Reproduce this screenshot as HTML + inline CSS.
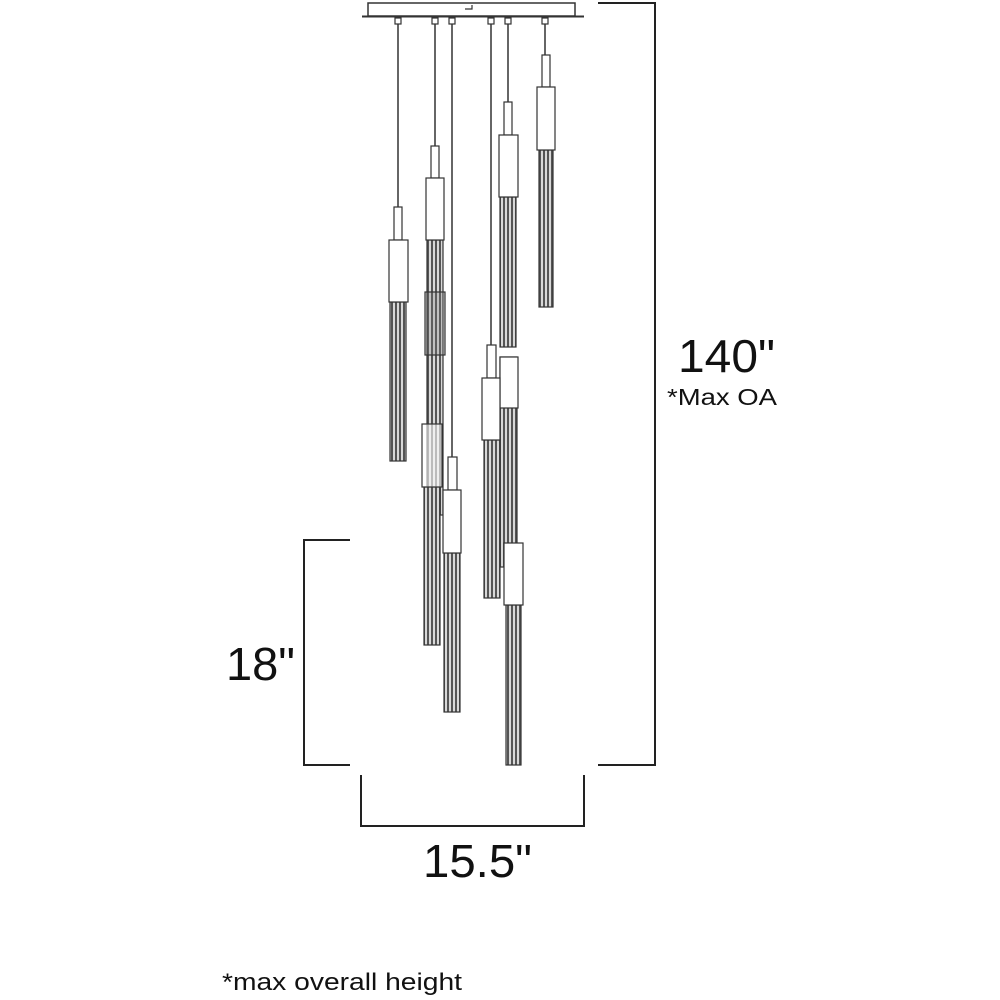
<!DOCTYPE html>
<html><head><meta charset="utf-8"><style>
html,body{margin:0;padding:0;background:#fff;}
svg{display:block;}
text{font-family:"Liberation Sans",sans-serif;fill:#111;}
</style></head><body>
<svg width="1000" height="1000" viewBox="0 0 1000 1000" xmlns="http://www.w3.org/2000/svg">
<defs>
<pattern id="tb" width="4" height="6" patternUnits="userSpaceOnUse">
<rect width="4" height="6" fill="#555"/>
<rect x="1" width="2" height="6" fill="#d8d8d8"/>
</pattern>
</defs>
<rect width="1000" height="1000" fill="#fff"/>
<!-- canopy -->
<rect x="368" y="3" width="207" height="13" fill="#fff" stroke="#333" stroke-width="1.5"/>
<line x1="362" y1="16.5" x2="584" y2="16.5" stroke="#333" stroke-width="2"/>
<path d="M472 5 v4 h-7" fill="none" stroke="#333" stroke-width="1.2"/>
<g fill="#fff" stroke="#333" stroke-width="1.2">
<rect x="395" y="18" width="6" height="6"/><rect x="432" y="18" width="6" height="6"/><rect x="449" y="18" width="6" height="6"/>
<rect x="488" y="18" width="6" height="6"/><rect x="505" y="18" width="6" height="6"/><rect x="542" y="18" width="6" height="6"/>
</g>
<g stroke="#333" stroke-width="1.5" fill="none">
<line x1="398" y1="24" x2="398" y2="207"/>
<line x1="435" y1="24" x2="435" y2="146"/>
<line x1="452" y1="24" x2="452" y2="457"/>
<line x1="491" y1="24" x2="491" y2="345"/>
<line x1="508" y1="24" x2="508" y2="102"/>
<line x1="545" y1="24" x2="545" y2="55"/>
</g>
<g stroke="#333" stroke-width="1.2">
<!-- P1 -->
<rect x="390" y="302" width="16" height="159" fill="url(#tb)"/>
<rect x="394" y="207" width="8" height="33" fill="#fff"/>
<rect x="389" y="240" width="19" height="62" fill="#fff"/>
<!-- P2 long tube -->
<rect x="427" y="240" width="16" height="275" fill="url(#tb)"/>
<rect x="425" y="292" width="20" height="63" fill="#777" fill-opacity="0.25"/>
<rect x="431" y="146" width="8" height="32" fill="#fff"/>
<rect x="426" y="178" width="18" height="62" fill="#fff"/>
<!-- P2b -->
<rect x="424" y="487" width="16" height="158" fill="url(#tb)"/>
<rect x="422" y="424" width="20" height="63" fill="#fff" fill-opacity="0.6"/>
<!-- P3 -->
<rect x="444" y="553" width="16" height="159" fill="url(#tb)"/>
<rect x="448" y="457" width="9" height="33" fill="#fff"/>
<rect x="443" y="490" width="18" height="63" fill="#fff"/>
<!-- P5 tube -->
<rect x="500" y="197" width="16" height="150" fill="url(#tb)"/>
<rect x="500" y="357" width="17" height="210" fill="url(#tb)"/>
<rect x="504" y="102" width="8" height="33" fill="#fff"/>
<rect x="499" y="135" width="19" height="62" fill="#fff"/>
<!-- P4 -->
<rect x="484" y="440" width="16" height="158" fill="url(#tb)"/>
<rect x="487" y="345" width="9" height="33" fill="#fff"/>
<rect x="500" y="357" width="18" height="51" fill="#fff"/>
<rect x="482" y="378" width="18" height="62" fill="#fff"/>
<!-- P6 -->
<rect x="539" y="150" width="14" height="157" fill="url(#tb)"/>
<rect x="542" y="55" width="8" height="32" fill="#fff"/>
<rect x="537" y="87" width="18" height="63" fill="#fff"/>
<!-- P7 -->
<rect x="506" y="605" width="15" height="160" fill="url(#tb)"/>
<rect x="504" y="543" width="19" height="62" fill="#fff"/>
</g>
<!-- dimension lines -->
<g stroke="#222" stroke-width="2" fill="none">
<path d="M598 3 H655 V765 H598"/>
<path d="M350 540 H304 V765 H350"/>
<path d="M361 775 V826 H584 V775"/>
</g>
<text x="678" y="372" font-size="46" textLength="97" lengthAdjust="spacingAndGlyphs">140"</text>
<text x="667" y="405" font-size="23" textLength="110" lengthAdjust="spacingAndGlyphs">*Max OA</text>
<text x="226" y="680" font-size="46" textLength="69" lengthAdjust="spacingAndGlyphs">18"</text>
<text x="423" y="877" font-size="46" textLength="109" lengthAdjust="spacingAndGlyphs">15.5"</text>
<text x="222" y="990" font-size="24" textLength="240" lengthAdjust="spacingAndGlyphs">*max overall height</text>
</svg>
</body></html>
